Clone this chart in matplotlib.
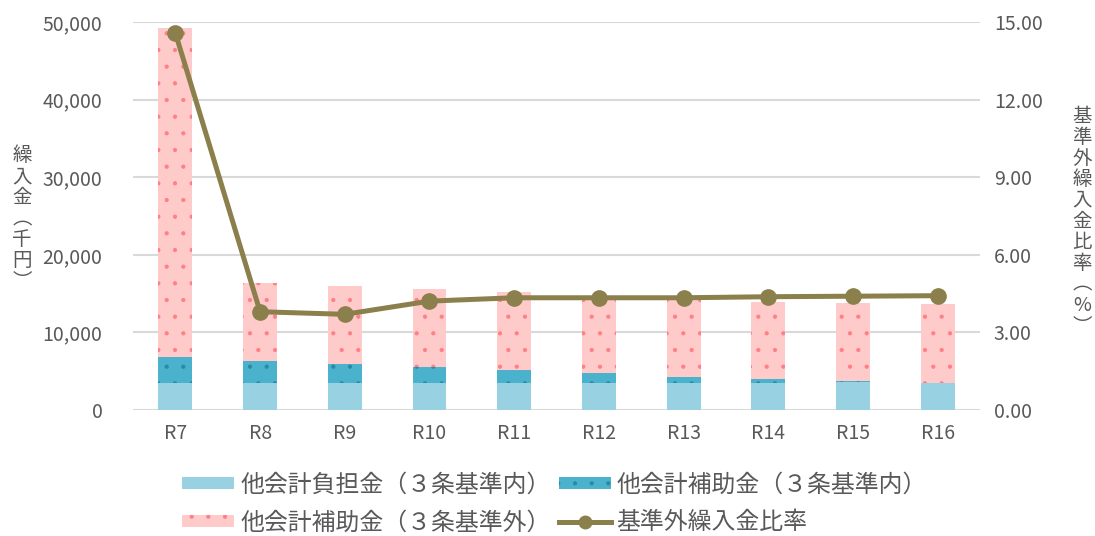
import numpy as np
import matplotlib
matplotlib.use('agg')
from matplotlib import pyplot as plt
from matplotlib.patches import Patch
from matplotlib.lines import Line2D
from matplotlib.ticker import FuncFormatter

plt.rcParams['font.family'] = ['Noto Sans CJK JP', 'DejaVu Sans']
plt.rcParams['hatch.linewidth'] = 0.6

years      = ['R7', 'R8', 'R9', 'R10', 'R11', 'R12', 'R13', 'R14', 'R15', 'R16']
futan_in   = [3540, 3540, 3540, 3540, 3540, 3540, 3540, 3540, 3600, 3540]    # 他会計負担金（３条基準内）
hojo_in    = [3290, 2770, 2390, 2000, 1610, 1190, 750, 420, 100, 0]          # 他会計補助金（３条基準内）
hojo_out   = [42400, 10020, 10050, 10010, 10020, 10000, 10000, 10000, 10050, 10080]  # 他会計補助金（３条基準外）
ratio      = [14.57, 3.80, 3.70, 4.21, 4.34, 4.34, 4.34, 4.38, 4.40, 4.42]   # 基準外繰入金比率

labels = ['他会計負担金（３条基準内）', '他会計補助金（３条基準内）',
          '他会計補助金（３条基準外）', '基準外繰入金比率']

c_light = '#97d1e2'
c_dark  = '#4bb2ce'
c_pink  = '#ffcaca'
c_line  = '#8b7f4c'
txt     = '#595959'

fig = plt.figure(figsize=(10.95, 5.36), dpi=100, facecolor='w')
ax = fig.add_axes([0.1215, 0.235, 0.895 - 0.1215, 0.959 - 0.235])
ax2 = ax.twinx()

x = np.arange(len(years))
w = 0.4
b1 = np.array(futan_in)
b2 = b1 + np.array(hojo_in)

ax.bar(x, futan_in, w, color=c_light, linewidth=0, zorder=2)
ax.bar(x, hojo_in, w, bottom=b1, color=c_dark, edgecolor='#2a8aa3', linewidth=0, hatch='.', zorder=2)
ax.bar(x, hojo_out, w, bottom=b2, color=c_pink, edgecolor='#ff7f86', linewidth=0, hatch='.', zorder=2)

ax2.plot(x, ratio, color=c_line, lw=3.6, marker='o', ms=11, zorder=3)

ax.set_xlim(-0.5, len(years) - 0.5)
ax.set_ylim(0, 50000)
ax.set_yticks(np.arange(0, 50001, 10000))
ax.yaxis.set_major_formatter(FuncFormatter(lambda v, p: f'{int(v):,}'))
ax2.set_ylim(0, 15)
ax2.set_yticks(np.arange(0, 15.01, 3))
ax2.yaxis.set_major_formatter(FuncFormatter(lambda v, p: f'{v:.2f}'))
ax.set_xticks(x)
ax.set_xticklabels(years)

ax.grid(axis='y', color='#d9d9d9', lw=1.5, zorder=0)
ax.set_axisbelow(True)
for a in (ax, ax2):
    for s in a.spines.values():
        s.set_visible(False)
    a.tick_params(length=0, labelsize=14, colors=txt)
ax.tick_params(axis='y', pad=22)
ax.tick_params(axis='x', pad=9)
ax2.tick_params(axis='y', pad=10)

fig.text(0.020, 0.592, '\n'.join('繰入金︵千円︶'), ha='center', va='center',
         fontsize=14, color=txt, linespacing=1.0)
fig.text(0.988, 0.587, '\n'.join('基準外繰入金比率︵%︶'), ha='center', va='center',
         fontsize=14, color=txt, linespacing=1.0)

h1 = Patch(facecolor=c_light, linewidth=0)
h2 = Patch(facecolor=c_dark, edgecolor='#2a8aa3', linewidth=0, hatch='.')
h3 = Patch(facecolor=c_pink, edgecolor='#ff7f86', linewidth=0, hatch='.')
h4 = Line2D([], [], color=c_line, lw=3.6, marker='o', ms=9)
leg = fig.legend([h1, h3, h2, h4], [labels[0], labels[2], labels[1], labels[3]],
                 loc='upper center', bbox_to_anchor=(0.5065, 0.157), ncol=2, frameon=False,
                 fontsize=17.2, handlelength=2.18, handleheight=0.42, handletextpad=0.25,
                 columnspacing=0.33, labelspacing=0.63)
for t in leg.get_texts():
    t.set_color(txt)

plt.savefig('out.png', dpi=100)
